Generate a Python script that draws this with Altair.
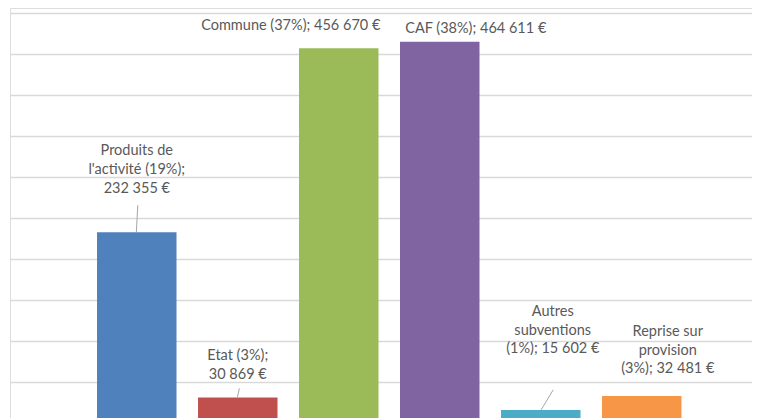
import altair as alt
import pandas as pd

# ---- data ----
categories = ["Produits de l'activité", "Etat", "Commune", "CAF",
              "Autres subventions", "Reprise sur provision"]
amounts = [232355, 30869, 456670, 464611, 15602, 32481]
shares = [19, 3, 37, 38, 1, 3]
label_lines = [
    ["Produits de", "l'activité (19%);", "232 355 €"],
    ["Etat (3%);", "30 869 €"],
    ["Commune (37%); 456 670 €"],
    ["CAF (38%); 464 611 €"],
    ["Autres", "subventions", "(1%); 15 602 €"],
    ["Reprise sur", "provision", "(3%); 32 481 €"],
]
grid_values = [50000, 100000, 150000, 200000, 250000,
               300000, 350000, 400000, 450000, 500000]

# ---- styles / layout ----
colors = ["#4F81BD", "#C0504D", "#9BBB59", "#8064A2", "#4BACC6", "#F79646"]
label_offsets = {  # (dx, dy) in px from bar top centre
    "Produits de l'activité": (0, -81),
    "Etat": (0, -41),
    "Commune": (-48, -22),
    "CAF": (36, -13),
    "Autres subventions": (12, -98),
    "Reprise sur provision": (26, -64),
}
leader_offsets = {  # (x_top, y_top, x_bottom, y_bottom) px offsets from bar top centre
    "Produits de l'activité": (1.0, -27, -0.4, 0),
    "Etat": (1.6, -9, -0.4, 0),
    "Autres subventions": (12.4, -20, 0.4, 0),
}
FONT = "Lato"
TEXT_COLOR = "#595959"

df = pd.DataFrame({
    "category": categories,
    "amount": amounts,
    "share": shares,
    "label": ["\n".join(l) for l in label_lines],
})

x_enc = alt.X("category:N", sort=categories, axis=None,
              scale=alt.Scale(paddingInner=0.213, paddingOuter=0.78, align=0.5524))
y_enc = alt.Y("amount:Q", title=None,
              scale=alt.Scale(domain=[5732, 505727], zero=False, nice=False),
              axis=alt.Axis(values=grid_values, grid=True, labels=False, ticks=False,
                            domain=False, gridColor="#d9d9d9", gridWidth=1.3))

bars = alt.Chart(df).mark_bar(clip=True).encode(
    x=x_enc,
    y=y_enc,
    color=alt.Color("category:N", sort=categories,
                    scale=alt.Scale(domain=categories, range=colors), legend=None),
)

layers = [bars]

for cat, (xt, yt, xb, yb) in leader_offsets.items():
    r = alt.Chart(df).transform_filter(alt.datum.category == cat).mark_rule(
        color="#a6a6a6", strokeWidth=1,
        xOffset=xt, yOffset=yt, x2Offset=xb, y2Offset=yb,
    ).encode(
        x=alt.X("category:N", sort=categories),
        x2=alt.X2("category"),
        y=alt.Y("amount:Q"),
        y2=alt.Y2("amount"),
    )
    layers.append(r)

for cat in categories:
    dx, dy = label_offsets[cat]
    t = alt.Chart(df).transform_filter(alt.datum.category == cat).mark_text(
        font=FONT, fontSize=14.5, color=TEXT_COLOR, align="center",
        baseline="middle", lineBreak="\n", lineHeight=18.7, dx=dx, dy=dy,
    ).encode(
        x=alt.X("category:N", sort=categories),
        y=alt.Y("amount:Q"),
        text="label:N",
    )
    layers.append(t)

chart = alt.layer(*layers).properties(
    width=742, height=410,
    padding={"left": 2, "top": 0, "right": 0, "bottom": 0},
    autosize=alt.AutoSizeParams(type="none"),
).configure_view(stroke=None).configure(background="white")

chart.save("out.html", embed_options={"renderer": "svg", "actions": False})
